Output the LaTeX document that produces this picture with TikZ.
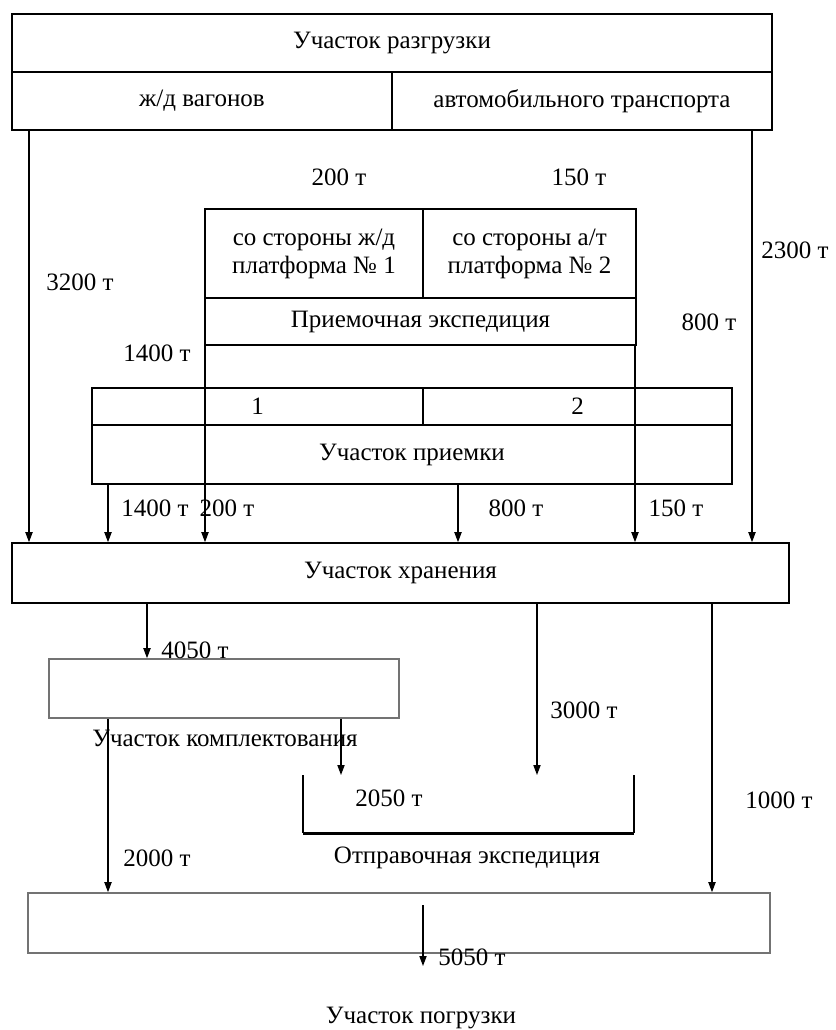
\documentclass[tikz,border=0pt]{standalone}
\usepackage{fontspec}
\setmainfont{Liberation Serif}
\usetikzlibrary{arrows.meta}

\begin{document}
\begin{tikzpicture}[x=0.5pt,y=-0.5pt,
  every node/.style={font=\fontsize{12.5}{14}\selectfont},
  box/.style={draw,line width=0.8pt,inner sep=0pt},
  pale/.style={draw=black!55,line width=0.8pt,inner sep=0pt},
  ton/.style={inner sep=0pt},
  ar/.style={-{Triangle[length=5pt,width=3.6pt]},line width=0.6pt}]
\useasboundingbox (0,0) rectangle (836,1030);

% участок разгрузки
\node[box,minimum width=380pt,minimum height=29pt] (unload) at (392,43) {Участок разгрузки};
\node[box,minimum width=190pt,minimum height=29pt] (rail) at (202,101) {ж/д вагонов};
\node[box,minimum width=190pt,minimum height=29pt] (auto) at (582,101) {автомобильного транспорта};

% приемочная экспедиция
\node[box,minimum width=109pt,minimum height=44.5pt,align=center] (pl1) at (314,253.5)
  {со стороны ж/д\\платформа № 1};
\node[box,minimum width=106.5pt,minimum height=44.5pt,align=center] (pl2) at (529.5,253.5)
  {со стороны а/т\\платформа № 2};
\node[box,minimum width=215.5pt,minimum height=23.5pt] (recv) at (420.5,321.5) {Приемочная экспедиция};

% участок приемки
\node[box,minimum width=165.5pt,minimum height=18.5pt] (c1) at (257.5,406.5) {1};
\node[box,minimum width=154.5pt,minimum height=18.5pt] (c2) at (577.5,406.5) {2};
\node[box,minimum width=320pt,minimum height=29.5pt] (accept) at (412,454.5) {Участок приемки};

% участок хранения
\node[box,minimum width=388.5pt,minimum height=30pt] (store) at (400.5,573) {Участок хранения};

% комплектование, отправка, погрузка
\node[pale,minimum width=175pt,minimum height=29.5pt] (pick) at (224,688.5) {};
\node[pale,minimum width=371pt,minimum height=30pt] (load) at (399,923) {};
\coordinate (dtop) at (303,775);
\coordinate (lout) at (423,966);
\draw[line width=0.6pt] (dtop) -- (303,833) (634,775) -- (634,833);
\draw[line width=1.5pt] (303,833) -- (634,833);

% потоки
\draw[ar] (29,0 |- rail.south) -- (29,0 |- store.north);
\draw[ar] (752,0 |- auto.south) -- (752,0 |- store.north);
\draw[ar] (205,0 |- recv.south) -- (205,0 |- store.north);
\draw[ar] (635,0 |- recv.south) -- (635,0 |- store.north);
\draw[ar] (108,0 |- accept.south) -- (108,0 |- store.north);
\draw[ar] (458,0 |- accept.south) -- (458,0 |- store.north);
\draw[ar] (147,0 |- store.south) -- (147,0 |- pick.north);
\draw[ar] (537,0 |- store.south) -- (537,0 |- dtop);
\draw[ar] (712,0 |- store.south) -- (712,0 |- load.north);
\draw[ar] (108,0 |- pick.south) -- (108,0 |- load.north);
\draw[ar] (341,0 |- pick.south) -- (341,0 |- dtop);
\draw[ar] (423,905) -- (lout);

% подписи
\node[ton] at (339,177) {200 т};
\node[ton] at (579,177) {150 т};
\node[ton] at (80,282) {3200 т};
\node[ton] at (795,250) {2300 т};
\node[ton] at (709,322) {800 т};
\node[ton] at (157,353) {1400 т};
\node[ton] at (155,508) {1400 т};
\node[ton] at (227,508) {200 т};
\node[ton] at (516,508) {800 т};
\node[ton] at (676,508) {150 т};
\node[ton] at (195,650) {4050 т};
\node[ton] at (584,710) {3000 т};
\node[ton] at (225,738) {Участок комплектования};
\node[ton] at (389,798) {2050 т};
\node[ton] at (779,800) {1000 т};
\node[ton] at (157,858) {2000 т};
\node[ton] at (467,858) {Отправочная экспедиция};
\node[ton] at (472,957) {5050 т};
\node[ton] at (421,1018) {Участок погрузки};
\end{tikzpicture}
\end{document}
